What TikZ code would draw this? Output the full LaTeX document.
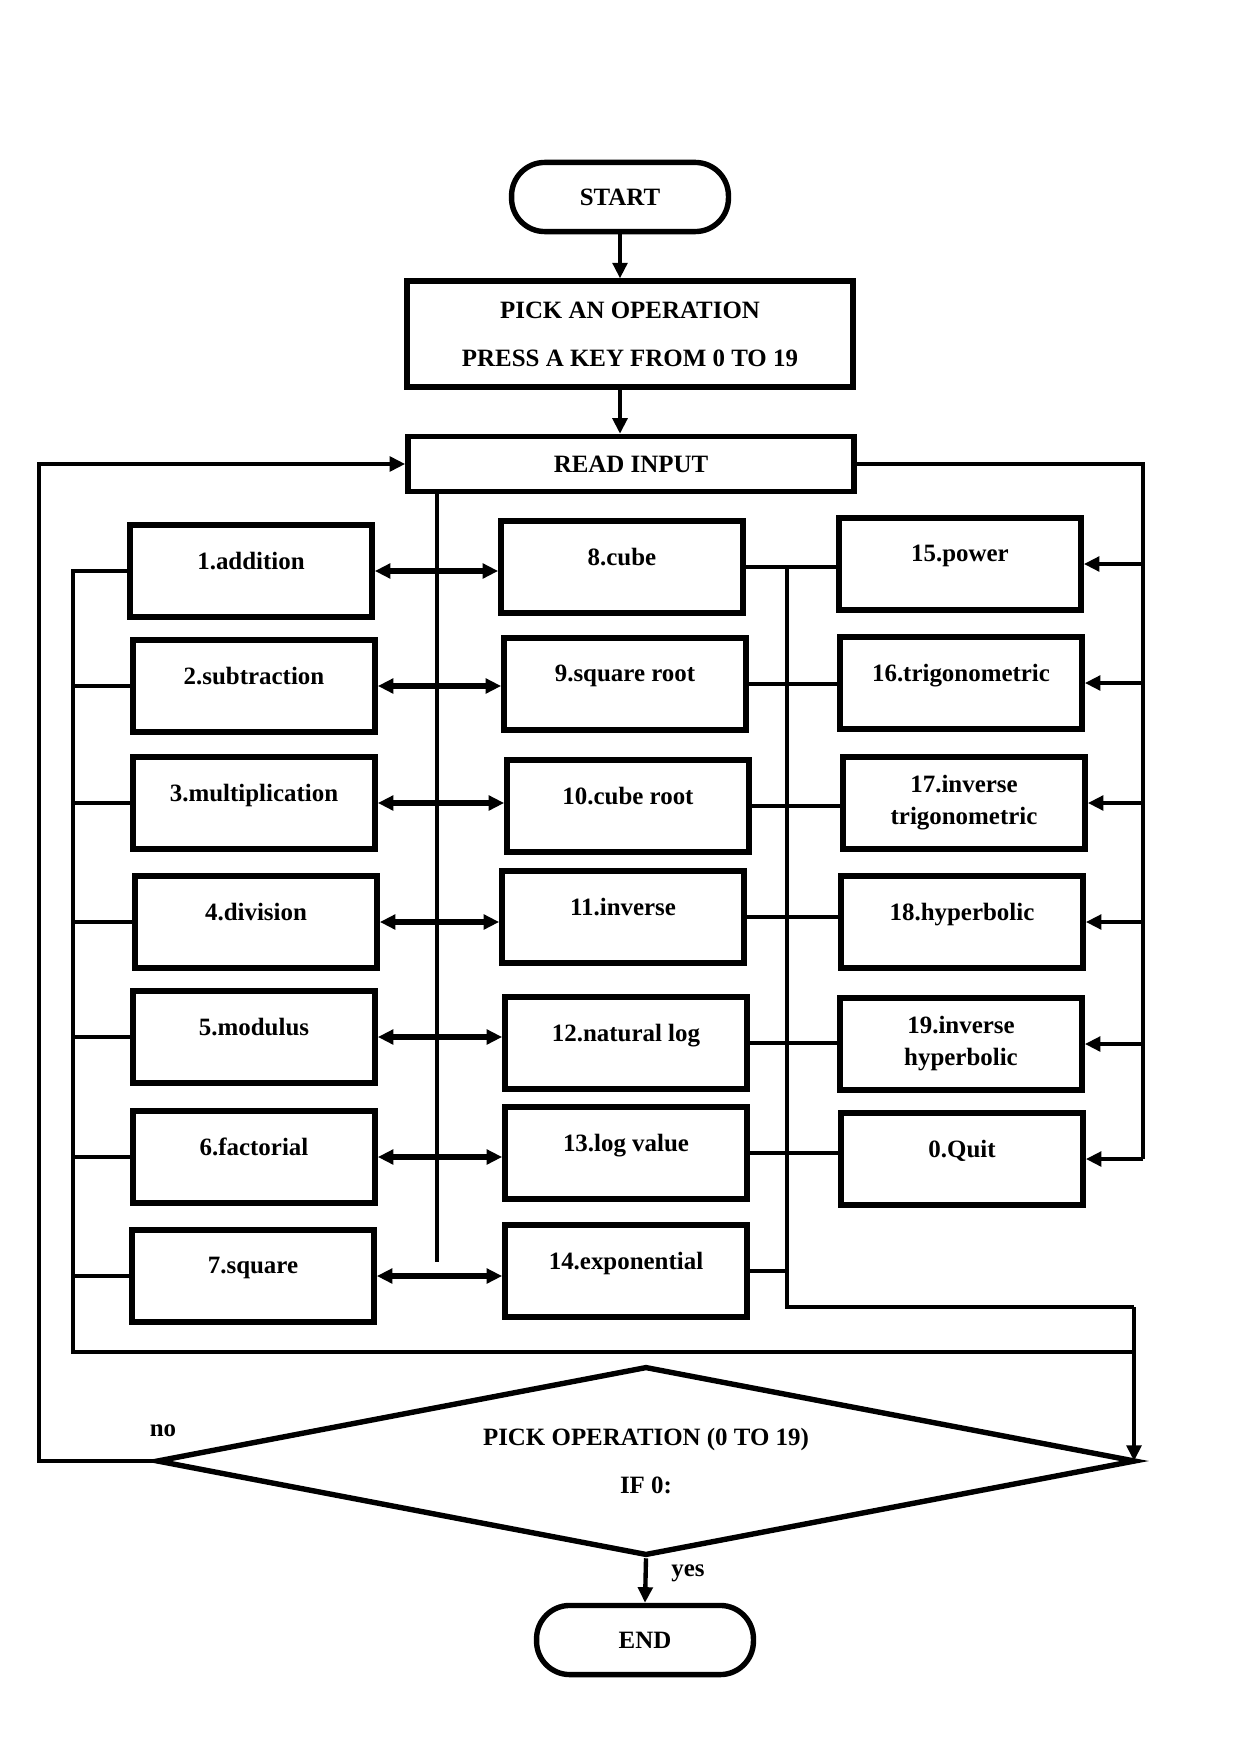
\documentclass[tikz,border=0pt]{standalone}
\usepackage{fontspec}
\setmainfont{Liberation Serif}
\usetikzlibrary{arrows.meta, positioning, shapes.geometric}

\tikzset{
  opbox/.style={draw, line width=2.6pt, minimum width=4.1cm, minimum height=1.56cm,
    align=center, font=\bfseries\fontsize{12}{15}\selectfont, text depth=10pt},
  endbox/.style={draw, line width=2.6pt, rounded corners=16pt, minimum width=3.67cm,
    minimum height=1.17cm, font=\bfseries\fontsize{12}{15}\selectfont},
  link/.style={line width=2.1pt},
  tip/.style={-{Triangle[length=7.5pt,width=7pt]}},
  twotip/.style={{Triangle[length=7.5pt,width=7pt]}-{Triangle[length=7.5pt,width=7pt]}, line width=2.9pt}
}

\begin{document}
\begin{tikzpicture}[x=0.0169218cm, y=-0.0169218cm]
  \useasboundingbox (0,0) rectangle (1241,1755);

  % top part
  \node[endbox] (start) at (620,197) {START};
  \node[draw, line width=2.6pt, minimum width=7.55cm, minimum height=1.79cm, align=center,
    font=\bfseries\fontsize{12}{15}\selectfont] (pick) at (630,334) {PICK AN OPERATION\\[8pt]PRESS A KEY FROM 0 TO 19};
  \node[draw, line width=2.6pt, minimum width=7.55cm, minimum height=0.93cm,
    font=\bfseries\fontsize{12}{15}\selectfont] (read) at (631,464) {READ INPUT};

  % left column
  \node[opbox] (add) at (251,571) {1.addition};
  \node[opbox] (sub) at (254,686) {2.subtraction};
  \node[opbox] (mul) at (254,803) {3.multiplication};
  \node[opbox] (div) at (256,922) {4.division};
  \node[opbox] (mod) at (254,1037) {5.modulus};
  \node[opbox] (fac) at (254,1157) {6.factorial};
  \node[opbox] (sqr) at (253,1276) {7.square};

  % middle column
  \node[opbox] (cub) at (622,567) {8.cube};
  \node[opbox] (sqrt) at (625,684) {9.square root};
  \node[opbox] (cbrt) at (628,806) {10.cube root};
  \node[opbox] (inv) at (623,917) {11.inverse};
  \node[opbox] (ln) at (626,1043) {12.natural log};
  \node[opbox] (log) at (626,1153) {13.log value};
  \node[opbox] (exp) at (626,1271) {14.exponential};

  % right column
  \node[opbox] (pow) at (960,564) {15.power};
  \node[opbox] (trig) at (961,683) {16.trigonometric};
  \node[opbox, text depth=3pt] (itrig) at (964,803) {17.inverse\\trigonometric};
  \node[opbox] (hyp) at (962,922) {18.hyperbolic};
  \node[opbox, text depth=3pt] (ihyp) at (961,1044) {19.inverse\\hyperbolic};
  \node[opbox] (quit) at (962,1159) {0.Quit};

  % decision and end
  \node[diamond, draw, line width=2.6pt, minimum width=16.57cm, minimum height=3.2cm,
    aspect=5.2, inner sep=0pt, align=center, font=\bfseries\fontsize{12}{15}\selectfont]
    (dec) at (646,1461) {PICK OPERATION (0 TO 19)\\[8pt]IF 0:};
  \node[endbox] (end) at (645,1640) {END};

  \coordinate (midbus) at (437,1262);
  \coordinate (lbus) at (73,1352);
  \coordinate (obus) at (39,1461);
  \coordinate (rbus) at (1143,464);
  \coordinate (cbus) at (787,1307);
  \coordinate (join) at (1134,1352);

  \draw[link, tip] (start.south) -- (start.south |- pick.north);
  \draw[link, tip] (pick.south -| start.south) -- (read.north -| start.south);

  % read input to the left and middle boxes
  \draw[link] (read.south -| midbus) -- (midbus);
  \draw[twotip] (add.east) -- (add.east -| cub.west);
  \draw[twotip] (sub.east) -- (sub.east -| sqrt.west);
  \draw[twotip] (mul.east) -- (mul.east -| cbrt.west);
  \draw[twotip] (div.east) -- (div.east -| inv.west);
  \draw[twotip] (mod.east) -- (mod.east -| ln.west);
  \draw[twotip] (fac.east) -- (fac.east -| log.west);
  \draw[twotip] (sqr.east) -- (sqr.east -| exp.west);

  % read input to the right boxes
  \draw[link] (read.east) -- (rbus) -- (rbus |- quit.east);
  \draw[link, tip] (rbus |- pow.east) -- (pow.east);
  \draw[link, tip] (rbus |- trig.east) -- (trig.east);
  \draw[link, tip] (rbus |- itrig.east) -- (itrig.east);
  \draw[link, tip] (rbus |- hyp.east) -- (hyp.east);
  \draw[link, tip] (rbus |- ihyp.east) -- (ihyp.east);
  \draw[link, tip] (rbus |- quit.east) -- (quit.east);

  % results back to the decision
  \draw[link] (cub.east) -- (cub.east -| pow.west);
  \draw[link] (sqrt.east) -- (sqrt.east -| trig.west);
  \draw[link] (cbrt.east) -- (cbrt.east -| itrig.west);
  \draw[link] (inv.east) -- (inv.east -| hyp.west);
  \draw[link] (ln.east) -- (ln.east -| ihyp.west);
  \draw[link] (log.east) -- (log.east -| quit.west);
  \draw[link] (exp.east) -- (exp.east -| cbus);
  \draw[link] (cub.east -| cbus) -- (cbus) -- (cbus -| join);
  \draw[link] (add.west) -- (add.west -| lbus) -- (lbus) -- (join);
  \draw[link] (sub.west) -- (sub.west -| lbus);
  \draw[link] (mul.west) -- (mul.west -| lbus);
  \draw[link] (div.west) -- (div.west -| lbus);
  \draw[link] (mod.west) -- (mod.west -| lbus);
  \draw[link] (fac.west) -- (fac.west -| lbus);
  \draw[link] (sqr.west) -- (sqr.west -| lbus);
  \draw[link, tip] (cbus -| join) -- (join |- dec.east);

  % no / yes
  \draw[link, tip] (dec.west) -- (obus) -- (obus |- read.west) -- (read.west);
  \node[font=\bfseries\fontsize{12}{15}\selectfont] (no) at (163,1431) {no};
  \draw[link, tip] (dec.south) -- (end.north);
  \node[font=\bfseries\fontsize{12}{15}\selectfont] (yes) at (688,1573) {yes};
\end{tikzpicture}
\end{document}
